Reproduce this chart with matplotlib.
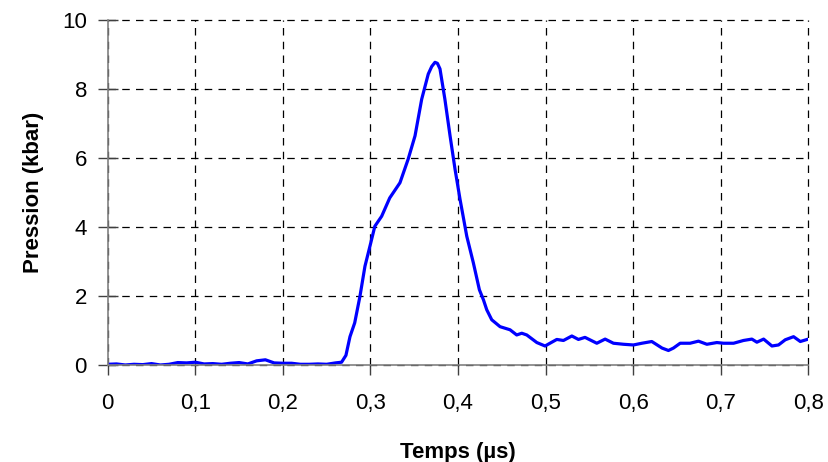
import matplotlib.pyplot as plt
from matplotlib.ticker import FuncFormatter

# temps (µs) et pression (kbar)
temps = [0.000, 0.010, 0.020, 0.030, 0.040, 0.050, 0.060, 0.070, 0.080, 0.090,
         0.100, 0.110, 0.120, 0.130, 0.140, 0.150, 0.160, 0.170, 0.180, 0.190,
         0.200, 0.210, 0.220, 0.230, 0.240, 0.250, 0.260, 0.267, 0.272,
         0.2766, 0.282, 0.288, 0.2937, 0.2994, 0.305, 0.3128, 0.322, 0.3337,
         0.343, 0.3509, 0.3585, 0.366, 0.370, 0.3737, 0.3765, 0.3794, 0.385,
         0.3909, 0.3966,
         0.4023, 0.410, 0.4175, 0.4244, 0.429, 0.4328, 0.4385, 0.448, 0.4594,
         0.467, 0.4728, 0.4785, 0.490, 0.4994, 0.505, 0.5128, 0.5204, 0.530,
         0.5375, 0.545, 0.5585, 0.568, 0.5775, 0.589, 0.6003, 0.610, 0.6213,
         0.633, 0.6403, 0.646, 0.6537, 0.665, 0.6746, 0.6842, 0.6956, 0.7032,
         0.7147, 0.726, 0.7356, 0.7413, 0.749, 0.7585, 0.766, 0.7737, 0.7832,
         0.7909, 0.800]
pression = [0.02, 0.03, 0.00, 0.02, 0.01, 0.04, 0.00, 0.02, 0.07, 0.06,
            0.08, 0.03, 0.04, 0.02, 0.05, 0.07, 0.03, 0.12, 0.15, 0.06,
            0.05, 0.05, 0.02, 0.02, 0.03, 0.02, 0.06, 0.08, 0.28,
            0.82, 1.22, 1.99, 2.86, 3.44, 4.02, 4.31, 4.84, 5.28,
            5.96, 6.64, 7.70, 8.43, 8.65, 8.77, 8.74, 8.58, 7.70,
            6.64, 5.67,
            4.80, 3.73, 2.96, 2.18, 1.89, 1.60, 1.31, 1.11, 1.02,
            0.87, 0.92, 0.87, 0.65, 0.55, 0.63, 0.74, 0.71, 0.84,
            0.74, 0.80, 0.63, 0.75, 0.63, 0.60, 0.58, 0.63, 0.68,
            0.49, 0.42, 0.49, 0.63, 0.63, 0.69, 0.60, 0.65, 0.63,
            0.63, 0.71, 0.75, 0.66, 0.75, 0.55, 0.58, 0.73, 0.82,
            0.68, 0.75]

xticks = [0, 0.1, 0.2, 0.3, 0.4, 0.5, 0.6, 0.7, 0.8]
yticks = [0, 2, 4, 6, 8, 10]

plt.rcParams['font.family'] = ['Liberation Sans', 'DejaVu Sans']

fig = plt.figure(figsize=(8.29, 4.62), dpi=100)
ax = fig.add_axes([0.130, 0.210, 0.845, 0.747])

ax.plot(temps, pression, color='#0000ff', lw=2.3, solid_joinstyle='round')

ax.set_xlim(0, 0.8)
ax.set_ylim(0, 10)
ax.set_xticks(xticks)
ax.set_yticks(yticks)
ax.xaxis.set_major_formatter(FuncFormatter(lambda v, p: ('%g' % round(v, 1)).replace('.', ',')))

ax.grid(True, color='black', linestyle=(0, (6, 5)), linewidth=0.9)
ax.set_axisbelow(True)
# les lignes de grille au bord (0,8 et 10) doivent rester visibles
for gl in ax.get_xgridlines() + ax.get_ygridlines():
    gl.set_clip_on(False)
for s in ['top', 'right']:
    ax.spines[s].set_visible(False)
for s in ['left', 'bottom']:
    ax.spines[s].set_color('#808080')
    ax.spines[s].set_linewidth(1.2)
    ax.spines[s].set_zorder(3)

ax.tick_params(axis='both', labelsize=16, width=1, color='#404040')
ax.tick_params(axis='y', direction='inout', length=14, pad=8)
ax.tick_params(axis='x', direction='out', length=7, pad=13)

ax.set_xlabel('Temps (µs)', fontsize=16, fontweight='bold', labelpad=20)
ax.set_ylabel('Pression (kbar)', fontsize=16, fontweight='bold', labelpad=13)

fig.savefig('out.png', dpi=100)
